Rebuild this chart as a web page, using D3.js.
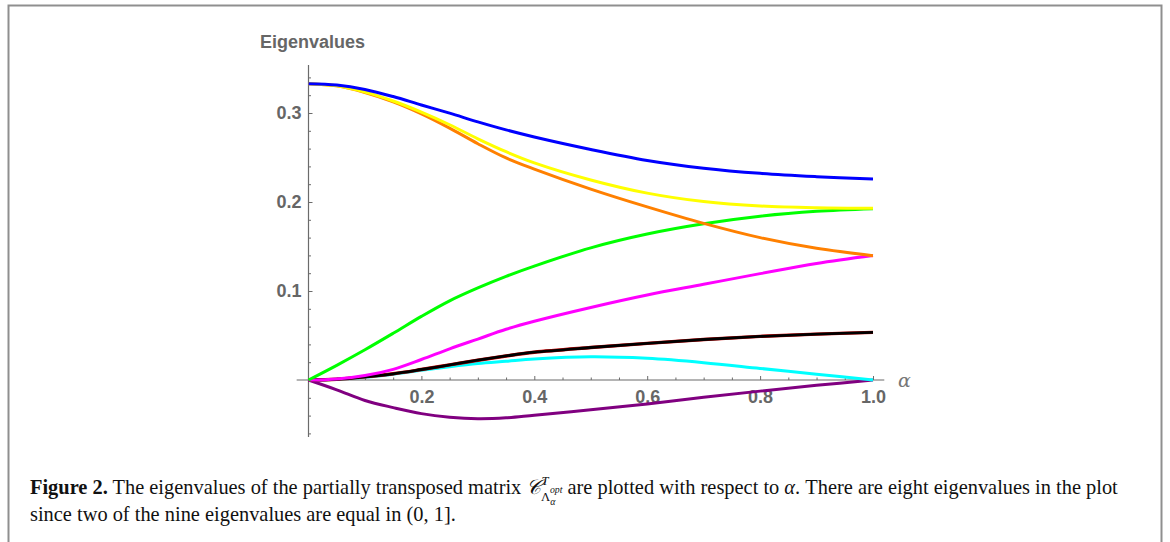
<!DOCTYPE html>
<html>
<head>
<meta charset="utf-8">
<script src="https://cdn.jsdelivr.net/npm/d3@7"></script>
<style>
  html, body { margin: 0; padding: 0; background: #fff; }
  svg { display: block; }
</style>
</head>
<body>
<svg id="chart" width="1170" height="542"></svg>
<script>
// alpha sample points (x) and eigenvalue curves
const alphaValues = [0, 0.05, 0.1, 0.15, 0.2, 0.25, 0.3, 0.35, 0.4, 0.5, 0.6, 0.7, 0.8, 0.9, 1.0];

const blueValues    = [0.333, 0.3315, 0.3265, 0.3185, 0.309, 0.2998, 0.290, 0.281, 0.273, 0.259, 0.2467, 0.238, 0.2322, 0.2285, 0.2258];
const yellowValues  = [0.333, 0.3305, 0.3235, 0.3135, 0.301, 0.2868, 0.271, 0.2565, 0.244, 0.2248, 0.2100, 0.2005, 0.1955, 0.1935, 0.1929];
const orangeValues  = [0.333, 0.3305, 0.323, 0.3125, 0.299, 0.283, 0.2655, 0.2495, 0.237, 0.2145, 0.1945, 0.176, 0.160, 0.148, 0.1397];
const greenValues   = [0, 0.0165, 0.034, 0.0525, 0.0715, 0.089, 0.1035, 0.1165, 0.128, 0.1485, 0.164, 0.1755, 0.184, 0.1895, 0.1925];
const magentaValues = [0, 0.0012, 0.005, 0.012, 0.023, 0.035, 0.046, 0.057, 0.066, 0.0815, 0.0955, 0.1075, 0.1195, 0.131, 0.14];
const redValues     = [0, 0.0008, 0.0035, 0.007, 0.0118, 0.017, 0.0222, 0.027, 0.0312, 0.0365, 0.0412, 0.0455, 0.049, 0.0515, 0.0535];
const blackValues   = [0, 0.0008, 0.0035, 0.007, 0.0118, 0.017, 0.0222, 0.027, 0.0312, 0.0365, 0.0412, 0.0455, 0.049, 0.0515, 0.0535];
const cyanValues    = [0, 0.0008, 0.003, 0.0065, 0.011, 0.015, 0.0185, 0.021, 0.0235, 0.026, 0.0243, 0.0195, 0.013, 0.0065, 0];
const purpleValues  = [0, -0.011, -0.023, -0.031, -0.0378, -0.0418, -0.0435, -0.0425, -0.0395, -0.0335, -0.027, -0.0195, -0.0125, -0.006, 0];

const xMajorTicks = [0.2, 0.4, 0.6, 0.8, 1.0];
const xMinorTicks = [0.05, 0.1, 0.15, 0.25, 0.3, 0.35, 0.45, 0.5, 0.55, 0.65, 0.7, 0.75, 0.85, 0.9, 0.95];
const yMajorTicks = [0.1, 0.2, 0.3];
const yMinorTicks = [-0.06, -0.04, -0.02, 0.02, 0.04, 0.06, 0.08, 0.12, 0.14, 0.16, 0.18, 0.22, 0.24, 0.26, 0.28, 0.32, 0.34];

const svg = d3.select('#chart');

// outer frame (bottom edge runs off the page)
svg.append('rect')
  .attr('x', 8.5).attr('y', 5.5)
  .attr('width', 1153).attr('height', 600)
  .attr('fill', '#fff')
  .attr('stroke', '#8f8f8f')
  .attr('stroke-width', 2);

const x = d3.scaleLinear().domain([0, 1]).range([308.5, 873]);
const y = d3.scaleLinear().domain([0, 0.3]).range([380, 113]);

const axisColor = '#6b6b6b';
const labelFont = '"Liberation Sans", Arial, sans-serif';

// axis lines
svg.append('line')
  .attr('x1', x(-0.021)).attr('x2', x(1.02))
  .attr('y1', y(0)).attr('y2', y(0))
  .attr('stroke', axisColor).attr('stroke-width', 1.2);
svg.append('line')
  .attr('x1', x(0)).attr('x2', x(0))
  .attr('y1', y(0.354)).attr('y2', y(-0.064))
  .attr('stroke', axisColor).attr('stroke-width', 1.2);

// x ticks (pointing up)
const xAxisMajor = svg.append('g')
  .attr('transform', `translate(0, ${y(0)})`)
  .call(d3.axisBottom(x).tickValues(xMajorTicks).tickSize(-4).tickPadding(10).tickFormat(d3.format('.1f')));
const xAxisMinor = svg.append('g')
  .attr('transform', `translate(0, ${y(0)})`)
  .call(d3.axisBottom(x).tickValues(xMinorTicks).tickSize(-2.5).tickFormat(''));

// y ticks (pointing right)
const yAxisMajor = svg.append('g')
  .attr('transform', `translate(${x(0)}, 0)`)
  .call(d3.axisLeft(y).tickValues(yMajorTicks).tickSize(-4).tickPadding(7).tickFormat(d3.format('.1f')));
const yAxisMinor = svg.append('g')
  .attr('transform', `translate(${x(0)}, 0)`)
  .call(d3.axisLeft(y).tickValues(yMinorTicks).tickSize(-2.5).tickFormat(''));

[xAxisMajor, xAxisMinor, yAxisMajor, yAxisMinor].forEach(g => {
  g.select('.domain').remove();
  g.selectAll('line').attr('stroke', axisColor).attr('stroke-width', 1);
  g.selectAll('text')
    .attr('fill', '#666')
    .style('font-family', labelFont)
    .style('font-weight', 'bold')
    .style('font-size', '18px');
});

// axis titles
svg.append('text')
  .attr('x', 260).attr('y', 48)
  .attr('fill', '#666')
  .style('font-family', labelFont)
  .style('font-weight', 'bold')
  .style('font-size', '18px')
  .text('Eigenvalues');

svg.append('text')
  .attr('x', 898).attr('y', 387)
  .attr('fill', '#777')
  .style('font-family', '"DejaVu Serif", serif')
  .style('font-style', 'italic')
  .style('font-size', '19px')
  .text('α');

// curves
const series = [
  { values: purpleValues,  color: '#800080', width: 3 },
  { values: cyanValues,    color: '#00ffff', width: 3 },
  { values: redValues,     color: '#cc0000', width: 3.4 },
  { values: blackValues,   color: '#000000', width: 2.8 },
  { values: magentaValues, color: '#ff00ff', width: 3 },
  { values: greenValues,   color: '#00ff00', width: 3 },
  { values: orangeValues,  color: '#ff8000', width: 3 },
  { values: yellowValues,  color: '#ffff00', width: 3 },
  { values: blueValues,    color: '#0000ff', width: 3 },
];

const line = d3.line()
  .curve(d3.curveCatmullRom.alpha(0.5))
  .x(d => x(d[0]))
  .y(d => y(d[1]));

svg.append('g')
  .selectAll('path')
  .data(series)
  .join('path')
  .attr('fill', 'none')
  .attr('stroke', d => d.color)
  .attr('stroke-width', d => d.width)
  .attr('stroke-linejoin', 'round')
  .attr('d', d => line(alphaValues.map((a, i) => [a, d.values[i]])));

// caption
const captionFont = '"Liberation Serif", "DejaVu Serif", serif';

function buildCaption(fs) {
  svg.selectAll('.caption').remove();
  const cap1 = svg.append('text')
    .attr('class', 'caption')
    .attr('x', 30).attr('y', 494)
    .attr('fill', '#111')
    .style('font-family', captionFont)
    .style('font-size', fs + 'px');
  cap1.append('tspan').style('font-weight', 'bold').text('Figure 2.');
  cap1.append('tspan').text(' The eigenvalues of the partially transposed matrix ');
  cap1.append('tspan').style('font-style', 'italic').text('𝒞');
  // superscript T stacked over the subscript Λ_α^opt
  cap1.append('tspan').attr('dy', -0.44 * fs)
    .style('font-size', 0.62 * fs + 'px').style('font-style', 'italic').text('T');
  cap1.append('tspan').attr('dx', -0.36 * fs).attr('dy', 0.80 * fs)
    .style('font-size', 0.62 * fs + 'px').text('Λ');
  cap1.append('tspan').attr('dy', 0.16 * fs)
    .style('font-size', 0.48 * fs + 'px').style('font-style', 'italic').text('α');
  cap1.append('tspan').attr('dx', -0.27 * fs).attr('dy', -0.58 * fs)
    .style('font-size', 0.48 * fs + 'px').style('font-style', 'italic').text('opt');
  cap1.append('tspan').attr('dy', 0.06 * fs).text(' are plotted with respect to ');
  cap1.append('tspan').style('font-style', 'italic').text('α');
  cap1.append('tspan').text('. There are eight eigenvalues in the plot');

  svg.append('text')
    .attr('class', 'caption')
    .attr('x', 30).attr('y', 521)
    .attr('fill', '#111')
    .style('font-family', captionFont)
    .style('font-size', fs + 'px')
    .text('since two of the nine eigenvalues are equal in (0,  1].');
  return cap1;
}

// fit the first caption line to the figure width
const w = buildCaption(18).node().getComputedTextLength();
buildCaption(18 * 1101 / w);
</script>
</body>
</html>
